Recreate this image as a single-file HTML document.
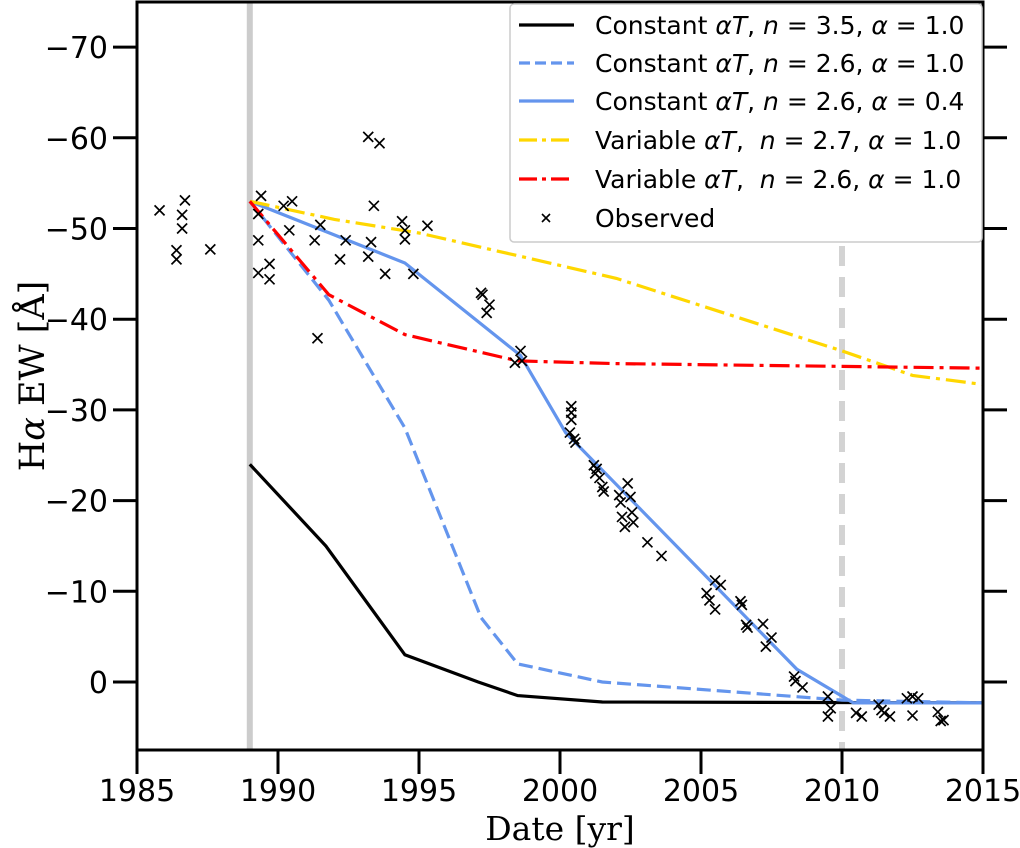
<!DOCTYPE html>
<html><head><meta charset="utf-8"><style>
body{margin:0;background:#fff}
svg{display:block}
text{font-family:"DejaVu Sans","Liberation Sans",sans-serif}
</style></head><body>
<svg id="chart" width="1020" height="848" viewBox="0 0 1020 848" xmlns="http://www.w3.org/2000/svg"></svg>
<script>
const xTicks=[1985,1990,1995,2000,2005,2010,2015];
const yTicks=[0,-10,-20,-30,-40,-50,-60,-70];
const blackX=[1989,1991.7,1994.5,1997.1,1998.5,2001.5,2015];
const blackY=[-24,-15,-3,0,1.5,2.2,2.3];
const dashX=[1989,1991.8,1994.5,1997.2,1998.5,2001.5,2010,2015];
const dashY=[-53,-42.1,-28,-7.1,-2,0,2.0,2.3];
const solidX=[1989,1994.5,1998.6,2000.2,2008.4,2010.4,2015];
const solidY=[-53,-46.2,-36,-27.5,-1.4,2.3,2.3];
const yellowX=[1989,1992,1995,1998.5,2002,2010,2012.5,2015];
const yellowY=[-53,-51,-49.5,-47,-44.5,-36.5,-33.8,-32.8];
const redX=[1989,1991.8,1994.5,1998.5,2002,2010,2015];
const redY=[-53,-42.7,-38.3,-35.4,-35.1,-34.8,-34.6];
const obsX=[1985.8,1986.4,1986.4,1986.6,1986.6,1986.7,1987.6,1989.4,1989.3,1989.3,1989.3,1989.7,1989.7,1990.2,1990.5,1990.4,1991.4,1991.5,1991.3,1992.2,1992.4,1993.2,1993.6,1993.4,1993.3,1993.2,1993.8,1994.4,1994.5,1994.5,1994.8,1995.3,1997.2,1997.25,1997.5,1997.4,1998.6,1998.4,1998.65,
2000.4,2000.4,2000.4,2000.35,2000.55,2000.5,2001.2,2001.3,2001.25,2001.4,2001.5,2001.55,2002.1,2002.4,2002.15,2002.5,2002.55,2002.2,2002.3,2002.6,2003.1,2003.6,2005.5,2005.7,2005.2,2005.3,2005.5,2006.4,2006.45,2006.6,2006.65,2007.2,2007.5,2007.3,2008.3,2008.35,2008.6,2009.5,2009.6,2009.5,2010.5,2010.7,2011.3,2011.5,2011.7,2011.4,2012.5,2012.7,2012.5,2013.4,2013.6,2013.5,2012.3];
const obsY=[-52,-47.6,-46.6,-51.5,-50,-53.1,-47.7,-53.6,-51.6,-48.7,-45.1,-46.1,-44.4,-52.5,-53,-49.8,-37.9,-50.4,-48.7,-46.6,-48.7,-60.1,-59.4,-52.5,-48.5,-46.9,-45,-50.8,-49.8,-48.8,-45,-50.3,-42.9,-42.7,-41.6,-40.7,-36.5,-35.2,-35.4,
-30.4,-29.7,-28.9,-27.5,-26.4,-26.8,-23.9,-23.5,-23,-22.5,-21.5,-21,-20.6,-21.9,-19.8,-20.4,-18.7,-18.2,-17.1,-17.6,-15.4,-13.9,-11.2,-10.7,-9.8,-9,-8,-8.9,-8.5,-6.3,-6,-6.4,-4.9,-3.9,-0.6,-0.1,0.6,1.6,2.9,3.8,3.4,3.8,2.5,3.4,3.8,3.1,1.6,1.8,3.7,3.3,4.2,4.3,1.8];

const svg=document.getElementById('chart');
const NS='http://www.w3.org/2000/svg';
const L=137,R=983,T=2,B=750;
function xs(v){return L+(v-1985)*(R-L)/30;}
function ys(v){return 682+v*9.07;}
function mk(tag,attrs,parent){const e=document.createElementNS(NS,tag);for(const k in attrs)e.setAttribute(k,attrs[k]);(parent||svg).appendChild(e);return e;}

let e=mk('line',{x1:xs(1989),x2:xs(1989),y1:T,y2:B,stroke:'#cccccc','stroke-width':6});


e=mk('line',{x1:xs(2010),x2:xs(2010),y1:246,y2:B,stroke:'#d3d3d3','stroke-width':6,'stroke-dasharray':'20 11'});



function series(xa,ya,color,dash,name){
  const pts=xa.map((x,i)=>xs(x).toFixed(1)+','+ys(ya[i]).toFixed(1)).join(' ');
  const p=mk('polyline',{points:pts,fill:'none',stroke:color,'stroke-width':3.2,'stroke-dasharray':dash||'none'});
  
  
}
series(blackX,blackY,'#000','', 'series-constant-n35');
series(dashX,dashY,'#6495ed','14 6','series-constant-n26-a10');
series(solidX,solidY,'#6495ed','', 'series-constant-n26-a04');
series(yellowX,yellowY,'#ffd700','20 6 4 6','series-variable-n27');
series(redX,redY,'#ff0000','20 6 4 6','series-variable-n26');

obsX.forEach((x,i)=>{
  const cx=xs(x),cy=ys(obsY[i]),s=5;
  const g=mk('path',{d:`M${cx-s},${cy-s}L${cx+s},${cy+s}M${cx-s},${cy+s}L${cx+s},${cy-s}`,stroke:'#000','stroke-width':1.7,fill:'none'});
  
  
});

e=mk('rect',{x:L,y:T,width:R-L,height:B-T,fill:'none',stroke:'#000','stroke-width':3});



xTicks.forEach(t=>{
  const x=xs(t);
  const tk=mk('line',{x1:x,x2:x,y1:B,y2:B+24,stroke:'#000','stroke-width':3});
  
  
  const tx=mk('text',{x:x,y:801,'text-anchor':'middle','font-size':30});
  tx.textContent=t;
  
  
});
yTicks.forEach(t=>{
  const y=ys(t);
  const tk=mk('line',{x1:L-24,x2:L,y1:y,y2:y,stroke:'#000','stroke-width':3});
  
  
  const tk2=mk('line',{x1:R,x2:R+24,y1:y,y2:y,stroke:'#000','stroke-width':3});
  
  
  const tx=mk('text',{x:108,y:y+11,'text-anchor':'end','font-size':30});
  tx.textContent=t===0?'0':'\u2212'+Math.abs(t);
  
  
});
</script>
<svg width="1020" height="848" style="position:absolute;left:0;top:0">
<text x="560" y="840" text-anchor="middle" font-size="33" style="font-family:'DejaVu Serif','Liberation Serif',serif">Date [yr]</text>
<text transform="translate(44,376) rotate(-90)" text-anchor="middle" font-size="35" style="font-family:'DejaVu Serif','Liberation Serif',serif">H<tspan font-style="italic">α</tspan> EW [Å]</text>
<g font-size="25">
<rect x="510" y="4" width="472" height="238" rx="4" fill="#fff" fill-opacity="0.85" stroke="#ccc" stroke-width="1.5"/>
<g>
<line x1="519" x2="574" y1="25" y2="25" stroke="#000" stroke-width="3.2"/>
<text x="595" y="34">Constant <tspan font-style="italic">αT</tspan>, <tspan font-style="italic">n</tspan> = 3.5, <tspan font-style="italic">α</tspan> = 1.0</text></g>
<g>
<line x1="519" x2="574" y1="63" y2="63" stroke="#6495ed" stroke-width="3.2" stroke-dasharray="11 5"/>
<text x="595" y="72">Constant <tspan font-style="italic">αT</tspan>, <tspan font-style="italic">n</tspan> = 2.6, <tspan font-style="italic">α</tspan> = 1.0</text></g>
<g>
<line x1="519" x2="574" y1="101" y2="101" stroke="#6495ed" stroke-width="3.2"/>
<text x="595" y="110">Constant <tspan font-style="italic">αT</tspan>, <tspan font-style="italic">n</tspan> = 2.6, <tspan font-style="italic">α</tspan> = 0.4</text></g>
<g>
<line x1="519" x2="574" y1="140" y2="140" stroke="#ffd700" stroke-width="3.2" stroke-dasharray="18 5 4 5"/>
<text x="595" y="149">Variable <tspan font-style="italic">αT</tspan>,&#160; <tspan font-style="italic">n</tspan> = 2.7, <tspan font-style="italic">α</tspan> = 1.0</text></g>
<g>
<line x1="519" x2="574" y1="179" y2="179" stroke="#ff0000" stroke-width="3.2" stroke-dasharray="18 5 4 5"/>
<text x="595" y="188">Variable <tspan font-style="italic">αT</tspan>,&#160; <tspan font-style="italic">n</tspan> = 2.6, <tspan font-style="italic">α</tspan> = 1.0</text></g>
<g>
<path d="M542,214L550,222M542,222L550,214" stroke="#000" stroke-width="1.6"/>
<text x="595" y="227">Observed</text></g>
</g>
</svg>
</body></html>
